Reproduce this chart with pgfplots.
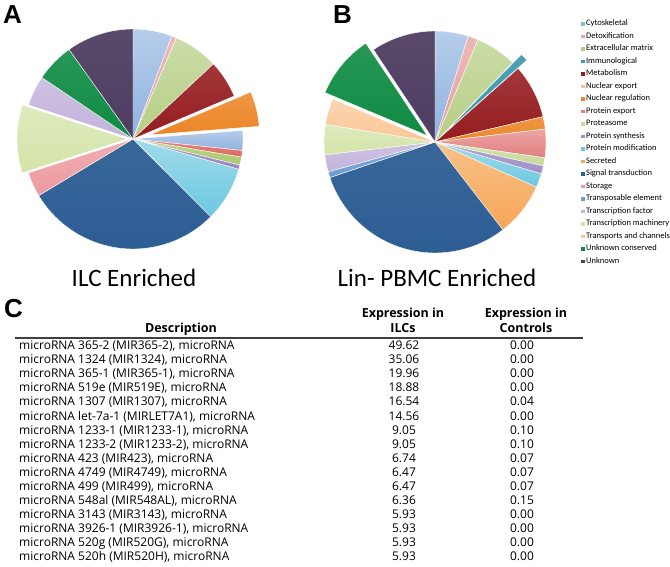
\documentclass[border=0pt]{standalone}
\usepackage{fontspec}
\setmainfont{Open Sans}
\newfontfamily\calib{Carlito}
\newfontfamily\arial{Liberation Sans}
\usepackage{pgfplots}
\pgfplotsset{compat=1.18}

% slice colours
\definecolor{cyto}{HTML}{8FB2E0}
\definecolor{detox}{HTML}{E8A0A0}
\definecolor{ecm}{HTML}{B5CE83}
\definecolor{immu}{HTML}{3B97AE}
\definecolor{metab}{HTML}{951C20}
\definecolor{nucexp}{HTML}{F9C08E}
\definecolor{nucreg}{HTML}{EC8526}
\definecolor{protexp}{HTML}{E47F7F}
\definecolor{proteas}{HTML}{C6DA98}
\definecolor{protsyn}{HTML}{A28FC8}
\definecolor{protmod}{HTML}{6CC8E0}
\definecolor{secret}{HTML}{F6A656}
\definecolor{signal}{HTML}{2C5D93}
\definecolor{storage}{HTML}{EC9AA0}
\definecolor{transpos}{HTML}{6B9BD7}
\definecolor{tfac}{HTML}{C2B3DA}
\definecolor{tmach}{HTML}{D3E4A8}
\definecolor{transp}{HTML}{FAC796}
\definecolor{unkcons}{HTML}{0F8B43}
\definecolor{unknown}{HTML}{4E3D61}
\definecolor{redA}{HTML}{E0675F}
\definecolor{greenA}{HTML}{A9C96B}
\definecolor{purpA}{HTML}{9C85C4}

% percent / colour / explode (bp) / shading, clockwise from 12 o'clock
\def\pieA{5.75/cyto/0/65, 0.69/detox/0/75, 6.61/ecm/0/70, 5.56/metab/0/88, 5.14/nucreg/17/85,
  2.92/cyto/0/65, 0.97/redA/0/80, 1.17/greenA/0/75, 0.64/purpA/0/80, 8.06/protmod/0/65,
  28.89/signal/0/94, 3.61/storage/0/80, 10.00/tmach/6/75, 4.44/tfac/0/80, 5.67/unkcons/0/90, 9.89/unknown/0/94}
\def\pieB{4.83/cyto/0/65, 1.50/detox/0/75, 6.00/ecm/0/70, 1.14/immu/12/90, 7.86/metab/0/88, 1.81/nucreg/0/85,
  4.14/protexp/0/70, 1.17/proteas/0/75, 1.19/protsyn/0/80, 2.03/protmod/0/65, 7.86/secret/0/70,
  30.28/signal/0/94, 0.86/transpos/0/80, 2.50/tfac/0/80, 4.36/tmach/0/75, 3.81/transp/0/75,
  9.31/unkcons/10/90, 9.36/unknown/0/94}

\newcommand\pieslices[2]{%
  \xdef\cum{0}%
  \foreach \sv/\sc/\se/\sh in #2 {%
    \pgfmathsetmacro\pa{\cum*3.6}%
    \pgfmathsetmacro\pb{(\cum+\sv)*3.6}%
    \pgfmathsetmacro\pm{(\pa+\pb)/2}%
    \pgfmathsetmacro\dx{\se*sin(\pm)}%
    \pgfmathsetmacro\dy{\se*cos(\pm)}%
    \pgfmathsetmacro\sx{\dx+#1*sin(\pa)}%
    \pgfmathsetmacro\sy{\dy+#1*cos(\pa)}%
    \pgfmathsetmacro\sa{90-\pa}%
    \pgfmathsetmacro\ea{90-\pb}%
    \edef\tmp{\noexpand\shadedraw[top color=\sc!\sh!white,bottom color=\sc,draw=white,line width=0.4bp,line join=round]
      (axis cs:\dx,\dy) -- (axis cs:\sx,\sy) arc[start angle=\sa,end angle=\ea,radius=#1bp] -- cycle;}%
    \tmp
    \pgfmathsetmacro\pn{\cum+\sv}%
    \xdef\cum{\pn}%
  }%
}

\pgfplotsset{pie/.style={hide axis, x=1bp, y=1bp, xmin=-120, xmax=120,
  ymin=-120, ymax=120, clip=false, anchor=center}}

\begin{document}
\begin{tikzpicture}
\path[use as bounding box] (0,0) rectangle (670bp,567bp);

% panel letters
\node[anchor=base west, inner sep=0pt, font=\arial\bfseries\fontsize{26bp}{28bp}\selectfont] at (3bp,543bp) {A};
\node[anchor=base west, inner sep=0pt, font=\arial\bfseries\fontsize{26bp}{28bp}\selectfont] at (333bp,543bp) {B};
\node[anchor=base west, inner sep=0pt, font=\arial\bfseries\fontsize{26bp}{28bp}\selectfont] at (4bp,249bp) {C};

% pie A
\begin{axis}[pie, at={(133bp,428bp)}]
\pieslices{110}{\pieA}
\end{axis}

% pie B with legend
\begin{axis}[pie, at={(435bp,425bp)},
  legend image code/.code={\fill (0bp,-1.8bp) rectangle (3.6bp,1.8bp);},
  legend cell align=left,
  legend style={at={(axis cs:146,122)}, anchor=north west, draw=none, fill=none,
    inner sep=0pt, outer sep=0pt, row sep=4.5bp, column sep=1.5bp,
    font=\calib\fontsize{8.5bp}{9bp}\selectfont,
    nodes={inner sep=0pt, text height=6bp, text depth=2bp}}]
\pieslices{111}{\pieB}
\addlegendimage{fill=cyto, draw=none}
\addlegendimage{fill=detox, draw=none}
\addlegendimage{fill=ecm, draw=none}
\addlegendimage{fill=immu, draw=none}
\addlegendimage{fill=metab, draw=none}
\addlegendimage{fill=nucexp, draw=none}
\addlegendimage{fill=nucreg, draw=none}
\addlegendimage{fill=protexp, draw=none}
\addlegendimage{fill=proteas, draw=none}
\addlegendimage{fill=protsyn, draw=none}
\addlegendimage{fill=protmod, draw=none}
\addlegendimage{fill=secret, draw=none}
\addlegendimage{fill=signal, draw=none}
\addlegendimage{fill=storage, draw=none}
\addlegendimage{fill=transpos, draw=none}
\addlegendimage{fill=tfac, draw=none}
\addlegendimage{fill=tmach, draw=none}
\addlegendimage{fill=transp, draw=none}
\addlegendimage{fill=unkcons, draw=none}
\addlegendimage{fill=unknown, draw=none}
\legend{Cytoskeletal, Detoxification, Extracellular matrix, Immunological, Metabolism,
  Nuclear export, Nuclear regulation, Protein export, Proteasome, Protein synthesis,
  Protein modification, Secreted, Signal transduction, Storage, Transposable element,
  Transcription factor, Transcription machinery, Transports and channels,
  Unknown conserved, Unknown}
\end{axis}

% pie titles
\node[anchor=base, inner sep=0pt, font=\calib\fontsize{25bp}{28bp}\selectfont] at (134bp,280bp) {ILC Enriched};
\node[anchor=base, inner sep=0pt, font=\calib\fontsize{25bp}{28bp}\selectfont] at (437bp,280bp) {Lin- PBMC Enriched};

% table
\begin{scope}[every node/.style={inner sep=0pt, font=\fontsize{12bp}{14bp}\selectfont}]
\begin{scope}[every node/.append style={anchor=mid, font=\bfseries\fontsize{12.5bp}{14bp}\selectfont}]
\node at (181bp,237bp) {Description};
\node at (403bp,252bp) {Expression in};
\node at (403bp,237bp) {ILCs};
\node at (526bp,252bp) {Expression in};
\node at (526bp,237bp) {Controls};
\end{scope}
\draw[line width=1.5bp, black!75] (15bp,229bp) -- (583bp,229bp);
\foreach \d/\p/\q [count=\i from 0] in {
  {microRNA 365-2 (MIR365-2), microRNA}/49.62/0.00,
  {microRNA 1324 (MIR1324), microRNA}/35.06/0.00,
  {microRNA 365-1 (MIR365-1), microRNA}/19.96/0.00,
  {microRNA 519e (MIR519E), microRNA}/18.88/0.00,
  {microRNA 1307 (MIR1307), microRNA}/16.54/0.04,
  {microRNA let-7a-1 (MIRLET7A1), microRNA}/14.56/0.00,
  {microRNA 1233-1 (MIR1233-1), microRNA}/9.05/0.10,
  {microRNA 1233-2 (MIR1233-2), microRNA}/9.05/0.10,
  {microRNA 423 (MIR423), microRNA}/6.74/0.07,
  {microRNA 4749 (MIR4749), microRNA}/6.47/0.07,
  {microRNA 499 (MIR499), microRNA}/6.47/0.07,
  {microRNA 548al (MIR548AL), microRNA}/6.36/0.15,
  {microRNA 3143 (MIR3143), microRNA}/5.93/0.00,
  {microRNA 3926-1 (MIR3926-1), microRNA}/5.93/0.00,
  {microRNA 520g (MIR520G), microRNA}/5.93/0.00,
  {microRNA 520h (MIR520H), microRNA}/5.93/0.00} {
  \pgfmathsetmacro\ry{567-347-14.07*\i}
  \node[anchor=mid west] at (19bp,\ry bp) {\d};
  \node[anchor=mid] at (404bp,\ry bp) {\p};
  \node[anchor=mid] at (522bp,\ry bp) {\q};
}
\end{scope}
\end{tikzpicture}
\end{document}
